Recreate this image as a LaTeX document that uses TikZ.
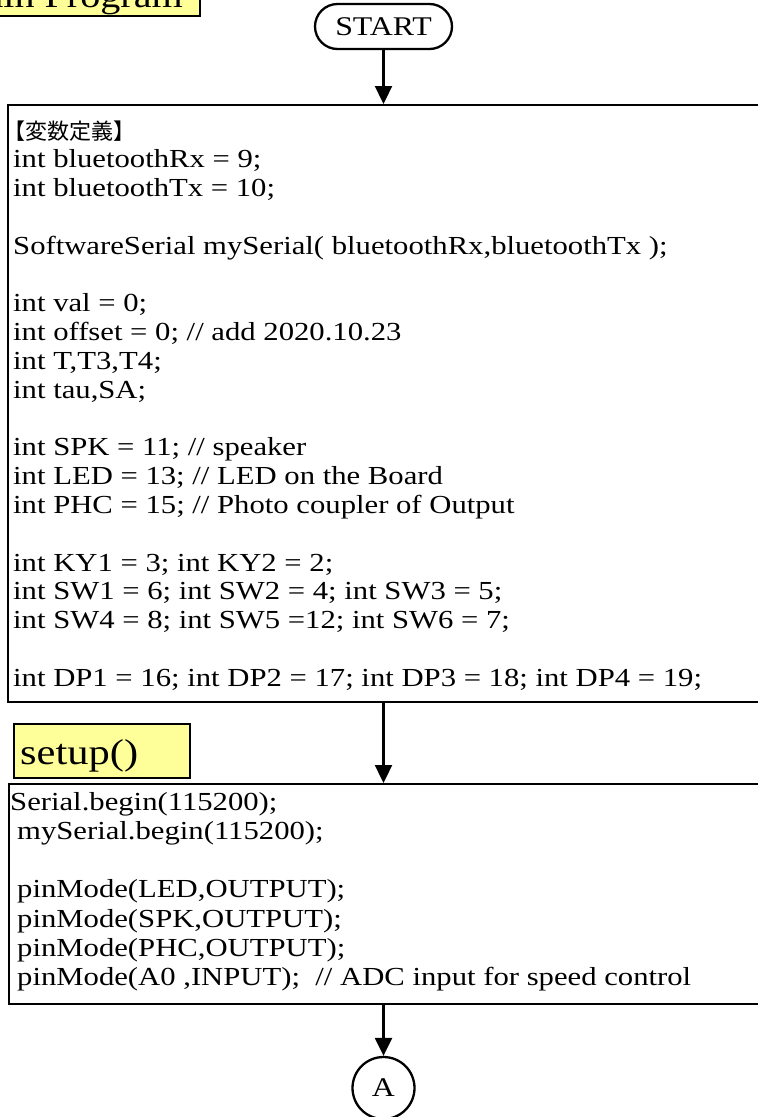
\documentclass[tikz,border=0pt]{standalone}
\usepackage{fontspec}
\setmainfont[FakeStretch=1.18]{Liberation Serif}
\newfontfamily\cjk{Noto Sans CJK JP}
\usetikzlibrary{arrows.meta}
\definecolor{notefill}{RGB}{255,255,153}

\begin{document}
\begin{tikzpicture}[x=1pt,y=-1pt,
  outline/.style={draw=black, line width=2.3pt},
  codebox/.style={outline, rectangle, inner sep=0pt, anchor=north west},
  notebox/.style={outline, fill=notefill, rectangle, inner sep=0pt, anchor=north west},
  codeline/.style={anchor=base west, inner sep=0pt, font=\fontsize{26}{30}\selectfont},
  heading/.style={inner sep=0pt, font=\fontsize{36}{40}\selectfont},
  terminal/.style={outline, rectangle, rounded corners=22.5pt, minimum width=137pt,
    minimum height=45pt, inner sep=0pt, font=\fontsize{27}{30}\selectfont},
  connector/.style={outline, circle, minimum size=62pt, inner sep=0pt,
    font=\fontsize{27}{30}\selectfont},
  flow/.style={line width=2.3pt, -{Triangle[width=17pt,length=18pt]}}]

\useasboundingbox (0,0) rectangle (758,1117);
\clip (0,0) rectangle (758,1117);

% title tab of the listing
\node[notebox, minimum width=204pt, minimum height=60pt] (titletab) at (-5,-45) {};
\node[heading, anchor=base east, font=\fontsize{34}{38}\selectfont] (titletext) at (183,7) {Main Program};

% start terminal
\node[terminal] (start) at (383.5,26.5) {START};

% variable definitions
\node[codebox, minimum width=763pt, minimum height=597pt] (vars) at (7,104) {};
\node[anchor=base west, inner sep=0pt, font=\cjk\fontsize{22}{26}\selectfont] (v0) at (3,139) {【変数定義】};
\foreach \n/\k/\txt in {
  1/1/{int bluetoothRx = 9;},
  2/2/{int bluetoothTx = 10;},
  3/4/{SoftwareSerial mySerial( bluetoothRx,bluetoothTx );},
  4/6/{int val = 0;},
  5/7/{int offset = 0; // add 2020.10.23},
  6/8/{int T,T3,T4;},
  7/9/{int tau,SA;},
  8/11/{int SPK = 11; // speaker},
  9/12/{int LED = 13; // LED on the Board},
  10/13/{int PHC = 15; // Photo coupler of Output},
  11/15/{int KY1 = 3; int KY2 = 2;},
  12/16/{int SW1 = 6; int SW2 = 4; int SW3 = 5;},
  13/17/{int SW4 = 8; int SW5 =12; int SW6 = 7;},
  14/19/{int DP1 = 16; int DP2 = 17; int DP3 = 18; int DP4 = 19;}}
  \node[codeline] (v\n) at (13,139+28.8*\k) {\txt};

% setup() heading
\node[notebox, minimum width=176pt, minimum height=54pt] (setuptab) at (13,723) {};
\node[heading, anchor=base west] (setuptext) at (20,764) {setup()};

% setup body
\node[codebox, minimum width=762pt, minimum height=220pt] (setupbody) at (8,783) {};
\foreach \n/\k/\x/\txt in {
  1/0/10/{Serial.begin(115200);},
  2/1/17/{mySerial.begin(115200);},
  3/3/17/{pinMode(LED,OUTPUT);},
  4/4/17/{pinMode(SPK,OUTPUT);},
  5/5/17/{pinMode(PHC,OUTPUT);},
  6/6/17/{pinMode(A0 ,INPUT);~ // ADC input for speed control}}
  \node[codeline] (s\n) at (\x,810+29.3*\k) {\txt};

% off-page connector
\node[connector] (conA) at (383.5,1088) {A};

% flow
\draw[flow] (start.south) -- (start.south |- vars.north);
\draw[flow] (vars.south -| start.south) -- (setupbody.north -| start.south);
\draw[flow] (setupbody.south -| start.south) -- (conA.north);
\end{tikzpicture}
\end{document}
